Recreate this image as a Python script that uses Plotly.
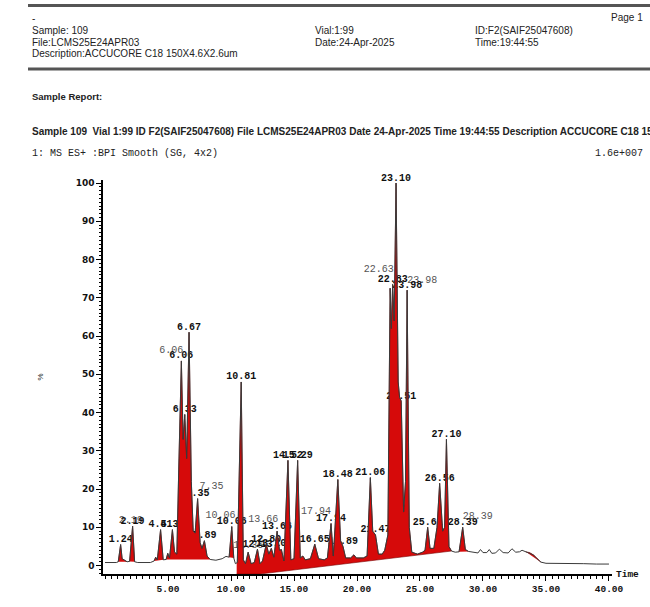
import numpy as np
import plotly.graph_objects as go

# ---------------- data ----------------
TRACE_T = [0.0, 0.9, 1.05, 1.24, 1.36, 1.6, 1.75, 1.95, 2.19, 2.35, 2.6, 3.6, 3.9, 4.02, 4.15, 4.41, 4.62,
           4.85, 4.98, 5.12, 5.35, 5.52, 5.7, 5.85, 6.06, 6.2, 6.33, 6.48, 6.67, 6.85, 7.0, 7.15, 7.35, 7.55,
           7.7, 7.89, 8.1, 8.35, 8.8, 9.3, 9.6, 9.85, 10.06, 10.22, 10.35, 10.5, 10.81, 10.98, 11.15, 11.36,
           11.6, 11.85, 12.1, 12.3, 12.5, 12.8, 13.0, 13.2, 13.4, 13.66, 13.85, 14.0, 14.2, 14.52, 14.75,
           15.0, 15.29, 15.5, 15.7, 15.9, 16.3, 16.65, 16.95, 17.4, 17.65, 17.94, 18.12, 18.48, 18.7, 18.89,
           19.1, 19.5, 19.75, 19.95, 20.5, 20.8, 21.06, 21.25, 21.47, 21.7, 22.0, 22.2, 22.45, 22.63, 22.73,
           22.83, 22.95, 23.10, 23.27, 23.38, 23.51, 23.7, 23.85, 23.98, 24.15, 24.35, 24.8, 25.2, 25.4,
           25.61, 25.8, 26.1, 26.35, 26.56, 26.8, 26.95, 27.10, 27.3, 27.5, 27.8, 28.1, 28.39, 28.6, 28.85,
           29.3, 29.6, 29.8, 30.0, 30.3, 30.5, 30.7, 31.0, 31.3, 31.6, 32.0, 32.3, 32.6, 32.9, 33.1, 33.4,
           33.7, 34.0, 34.3, 34.6, 35.0, 36.0, 37.0, 38.0, 39.0, 40.0]
TRACE_Y = [0.8, 0.8, 1.0, 5.5, 1.8, 1.4, 1.0, 1.1, 10.3, 1.0, 0.8, 0.8, 1.2, 2.2, 1.5, 9.4, 1.5,
           1.6, 3.2, 2.0, 9.4, 3.5, 3.0, 25.0, 53.5, 33.0, 39.5, 28.0, 61.0, 22.0, 9.0, 8.5, 17.5, 6.0,
           4.5, 6.5, 2.5, 1.6, 1.4, 1.8, 2.4, 2.2, 10.2, 2.0, 0.5, 0.8, 48.0, 1.5, 0.5, 3.5,
           0.5, 0.8, 4.3, 0.5, 1.2, 5.6, 3.0, 4.5, 2.2, 9.0, 4.0, 4.2, 1.2, 27.5, 1.5,
           1.8, 27.5, 2.0, 2.5, 1.5, 1.8, 5.6, 1.8, 1.5, 2.0, 11.0, 2.5, 22.5, 6.5, 5.0,
           2.0, 2.0, 2.8, 2.0, 2.0, 2.5, 23.0, 9.0, 8.0, 3.0, 3.0, 4.0, 8.0, 72.5, 62.0,
           73.5, 64.0, 100.0, 48.0, 44.0, 43.0, 14.0, 22.0, 72.0, 10.0, 3.5, 3.0, 3.5, 4.0,
           10.0, 4.5, 4.5, 10.0, 21.5, 9.0, 10.0, 33.0, 5.0, 3.8, 3.5, 3.6, 10.0, 4.2, 3.7,
           3.5, 3.3, 4.2, 3.4, 3.4, 4.2, 3.2, 3.3, 4.3, 3.4, 3.3, 4.4, 3.5, 3.6, 4.0, 3.6,
           3.4, 2.8, 1.8, 0.9, 0.6, 0.6, 0.5, 0.5, 0.4, 0.4]

# integrated (red) regions
SEG_START = [1.05, 1.95, 3.9, 4.85, 9.85, 10.45, 28.1, 33.4]
SEG_END = [1.75, 2.35, 4.62, 8.35, 10.22, 27.5, 28.85, 34.6]
# drawn integration baseline of the long region (10.45 - 27.5)
LONG_BASE_T = [10.45, 12.3, 27.5]
LONG_BASE_Y = [-2.2, -2.2, 3.8]

BOLD_RT = [1.24, 2.19, 4.41, 5.35, 6.06, 6.33, 6.67, 7.35, 7.89, 10.06, 10.81, 12.1, 12.8, 13.2, 13.66,
           14.52, 15.29, 16.65, 17.94, 18.48, 18.89, 21.06, 21.47, 22.83, 23.10, 23.51, 23.98, 25.61,
           26.56, 27.10, 28.39]
BOLD_TXT = ["1.24", "2.19", "4.41", "5.35", "6.06", "6.33", "6.67", "7.35", "7.89", "10.06", "10.81",
            "12.13", "12.80", "13.20", "13.66", "14.52", "15.29", "16.65", "17.94", "18.48", "18.89",
            "21.06", "21.47", "22.83", "23.10", "23.51", "23.98", "25.61", "26.56", "27.10", "28.39"]
THIN_RT = [2.19, 6.06, 7.35, 10.06, 11.36, 13.66, 17.94, 22.63, 23.98, 28.39]
THIN_TXT = ["2.19", "6.06", "7.35", "10.06", "11.36", "13.66", "17.94", "22.63", "23.98", "28.39"]

X_TICKS = [5, 10, 15, 20, 25, 30, 35, 40]
X_TICKTEXT = ["5.00", "10.00", "15.00", "20.00", "25.00", "30.00", "35.00", "40.00"]
Y_TICKS = [0, 10, 20, 30, 40, 50, 60, 70, 80, 90, 100]

# ---------------- styles ----------------
THIN_OFFSET = {  # (dx in min, dy in %) label offsets, style only
    "2.19": (-0.15, 0.3), "6.06": (-0.8, 1.5), "7.35": (1.1, 1.8), "10.06": (-0.9, 1.5),
    "11.36": (0.0, 0.5), "13.66": (-1.1, 1.8), "17.94": (-1.2, 1.8), "22.63": (-0.9, 3.5),
    "23.98": (1.2, 1.2), "28.39": (1.2, 1.5),
}
RED = "rgb(214,10,10)"
L, R, T, B = 103, 38, 180, 24
W, H = 650, 607
PW, PH = W - L - R, H - T - B


def px(x):
    return (x - L) / PW


def py(y):
    return (H - B - y) / PH


tr_t = np.array(TRACE_T)
tr_y = np.array(TRACE_Y)

fig = go.Figure()

# peak labels first (so that neighbouring peaks cover them, as in the print)
fig.add_trace(go.Scatter(
    x=[t + THIN_OFFSET[s][0] for t, s in zip(THIN_RT, THIN_TXT)],
    y=[np.interp(t, tr_t, tr_y) + THIN_OFFSET[s][1] for t, s in zip(THIN_RT, THIN_TXT)],
    mode="text", text=THIN_TXT, textposition="top center", cliponaxis=False,
    textfont=dict(family="Liberation Mono", size=10, color="#555555"),
    hoverinfo="skip", showlegend=False))
fig.add_trace(go.Scatter(
    x=BOLD_RT, y=[np.interp(t, tr_t, tr_y) for t in BOLD_RT],
    mode="text", text=BOLD_TXT, textposition="top center", cliponaxis=False,
    textfont=dict(family="Liberation Mono", size=10, color="#111111", weight="bold"),
    hoverinfo="skip", showlegend=False))

# red integrated areas
for i, (a, b) in enumerate(zip(SEG_START, SEG_END)):
    mask = (tr_t > a) & (tr_t < b)
    xs = [a] + list(tr_t[mask]) + [b]
    ys = [float(np.interp(a, tr_t, tr_y))] + list(tr_y[mask]) + [float(np.interp(b, tr_t, tr_y))]
    if a == LONG_BASE_T[0]:
        xs += LONG_BASE_T[::-1]
        ys += LONG_BASE_Y[::-1]
    fig.add_trace(go.Scatter(x=xs, y=ys, mode="lines", fill="toself", fillcolor=RED,
                             line=dict(width=0.6, color="rgb(120,0,0)"),
                             hoverinfo="skip", showlegend=False))

# chromatogram line
fig.add_trace(go.Scatter(x=TRACE_T, y=TRACE_Y, mode="lines",
                         line=dict(color="#3a3a3a", width=1),
                         hoverinfo="skip", showlegend=False))

ann = []
hdr = dict(family="Liberation Sans", size=10, color="#222222")


def add_text(x, y, text, font, xanchor="left", **kw):
    ann.append(dict(x=px(x), y=py(y), xref="paper", yref="paper", text=text, showarrow=False,
                    xanchor=xanchor, yanchor="middle", font=font, **kw))


add_text(30, 15, "-", hdr)
add_text(30, 27, "Sample: 109", hdr)
add_text(30, 39, "File:LCMS25E24APR03", hdr)
add_text(30, 51, "Description:ACCUCORE C18 150X4.6X2.6um", hdr)
add_text(313, 27, "Vial:1:99", hdr)
add_text(313, 39, "Date:24-Apr-2025", hdr)
add_text(473, 27, "ID:F2(SAIF25047608)", hdr)
add_text(473, 39, "Time:19:44:55", hdr)
add_text(645, 14, "Page 1", hdr, xanchor="right")
add_text(30, 95, "<b>Sample Report:</b>", dict(family="Liberation Sans", size=9.5, color="#222222"))
add_text(30, 130, "<b>Sample 109  Vial 1:99 ID F2(SAIF25047608) File LCMS25E24APR03 Date 24-Apr-2025 "
                  "Time 19:44:55 Description ACCUCORE C18 150X4.6X2.6um</b>",
         dict(family="Liberation Sans", size=10, color="#222222"))
mono = dict(family="Liberation Mono", size=10, color="#222222")
add_text(30, 153, "1: MS ES+ :BPI Smooth (SG, 4x2)", mono)
add_text(645, 153, "1.6e+007", mono, xanchor="right")
add_text(40, 382, "%", dict(family="Liberation Sans", size=8, color="#222222"), xanchor="center",
         textangle=-90)
add_text(614, 583, "<b>Time</b>", dict(family="Liberation Mono", size=9.5, color="#111111"))

shapes = [
    dict(type="line", xref="paper", yref="paper", x0=px(28), x1=px(652), y0=py(1.5), y1=py(1.5),
         line=dict(color="#555555", width=3)),
    dict(type="line", xref="paper", yref="paper", x0=px(28), x1=px(652), y0=py(66.5), y1=py(66.5),
         line=dict(color="#555555", width=3)),
]

fig.update_layout(
    width=W, height=H, margin=dict(l=L, r=R, t=T, b=B),
    paper_bgcolor="white", plot_bgcolor="white",
    annotations=ann, shapes=shapes, showlegend=False,
    xaxis=dict(range=[-0.16, 40.24], showgrid=False, zeroline=False, showline=True,
               linecolor="black", linewidth=1.5, ticks="outside", ticklen=5, tickwidth=1,
               tickcolor="black", tickvals=X_TICKS, ticktext=X_TICKTEXT,
               tickfont=dict(family="Liberation Mono", size=9.5, color="#111111", weight="bold"),
               minor=dict(dtick=0.5, tick0=0, ticklen=3, tickcolor="black", ticks="outside")),
    yaxis=dict(range=[-2.2, 100.8], showgrid=False, zeroline=False, showline=True,
               linecolor="black", linewidth=1.5, ticks="outside", ticklen=5, tickwidth=1,
               tickcolor="black", tickvals=Y_TICKS,
               tickfont=dict(family="DejaVu Sans", size=9, color="#111111", weight="bold"),
               minor=dict(dtick=1, tick0=0, ticklen=2.5, tickcolor="black", ticks="outside")),
)

fig.write_html("out.html", config={"displayModeBar": False},
               post_script="document.body.style.margin='0';document.body.style.overflow='hidden';")
